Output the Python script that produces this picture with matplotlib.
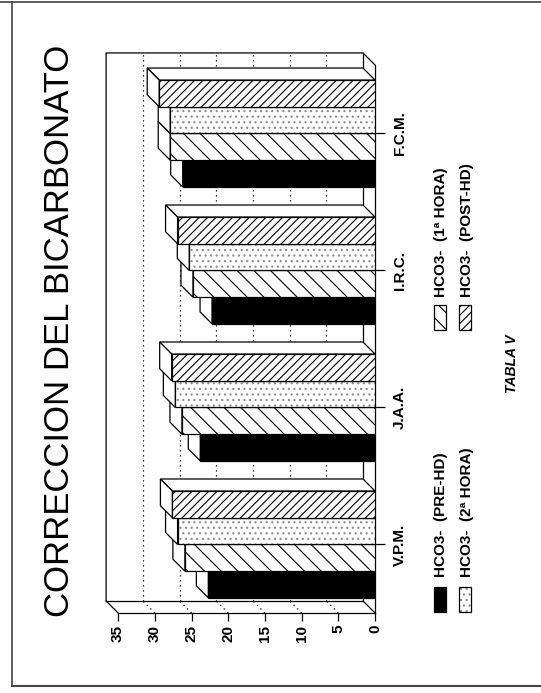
import matplotlib
matplotlib.use('Agg')
import matplotlib.pyplot as plt
from matplotlib.patches import Polygon, Rectangle
from matplotlib.lines import Line2D

plt.rcParams['font.family'] = ['Liberation Sans', 'DejaVu Sans']
plt.rcParams['hatch.linewidth'] = 0.8

# data (rotated page: values grow to the left)
categories = ['V.P.M.', 'J.A.A.', 'I.R.C.', 'F.C.M.']
pre_hd = [22.7, 23.8, 22.2, 26.2]
hora_1 = [25.9, 26.3, 24.8, 27.9]
hora_2 = [26.9, 27.2, 25.3, 27.9]
post_hd = [27.6, 27.7, 26.9, 29.4]
series_labels = ['HCO3-  (PRE-HD)', 'HCO3-  (1ª HORA)', 'HCO3-  (2ª HORA)', 'HCO3-  (POST-HD)']
value_ticks = [0, 5, 10, 15, 20, 25, 30, 35]

W, H = 541, 693
fig = plt.figure(figsize=(W / 100, H / 100), dpi=100)
fig.patch.set_facecolor('white')

# 3d depth offset in data units (12 px each way)
dx = 12 / 7.34
dy = 12 / 136.5
ax = fig.add_axes([106.1 / W, 1 - 612.95 / H, 268.9 / W, 560 / H])
ax.set_xlim(35 + dx, 0)
ax.set_ylim(-0.5, 3.5 + dy)
for s in ax.spines.values():
    s.set_visible(False)
ax.set_facecolor('none')


def pxfig(x, y):
    return x / W, 1 - y / H


def line(xs, ys, **kw):
    ax.add_line(Line2D(xs, ys, color='black', lw=0.9, clip_on=False, **kw))


# back wall, floor and side strip
line([35 + dx, 35 + dx, dx, 0], [-0.5 + dy, 3.5 + dy, 3.5 + dy, 3.5])
line([dx, dx], [-0.5 + dy, 3.5 + dy])
line([0, 0], [-0.5, 3.5])
line([35 + dx, dx], [-0.5 + dy, -0.5 + dy])
line([35, 0], [-0.5, -0.5])
line([35, 35 + dx], [-0.5, -0.5 + dy])
line([0, dx], [-0.5, -0.5 + dy])
for v in value_ticks[1:-1]:
    line([v + dx, v + dx], [-0.5 + dy, 3.5 + dy], ls=(0, (1, 3)), zorder=1)
    line([v, v + dx], [-0.5, -0.5 + dy], ls=(0, (1, 3)), zorder=1)

series = [pre_hd, hora_1, hora_2, post_hd]
faces = ['black', 'white', 'white', 'white']
hatches = [None, '\\\\', '...', '////']
hatch_colors = ['black', 'black', '#8a8a8a', 'black']
bw = 0.195
offsets = [-1.5 * bw, -0.5 * bw, 0.5 * bw, 1.5 * bw]

for i, vals in enumerate(series):
    ys = [k + offsets[i] for k in range(len(categories))]
    z = 10 + 3 * i
    # hatch layer, then outline on top
    ax.barh(ys, vals, height=bw, left=0, color=faces[i], edgecolor=hatch_colors[i],
            linewidth=0, hatch=hatches[i], zorder=z + 1)
    ax.barh(ys, vals, height=bw, left=0, fill=False, edgecolor='black',
            linewidth=0.9, zorder=z + 2)
    for y, v in zip(ys, vals):
        top = y + bw / 2
        bot = y - bw / 2
        side = Polygon([(0, top), (v, top), (v + dx, top + dy), (dx, top + dy)],
                       closed=True, fc='white', ec='black', lw=0.9, zorder=z)
        cap = Polygon([(v, bot), (v, top), (v + dx, top + dy), (v + dx, bot + dy)],
                      closed=True, fc='white', ec='black', lw=0.9, zorder=z)
        ax.add_patch(side)
        ax.add_patch(cap)

ax.set_xticks(value_ticks)
ax.set_xticklabels([str(t) for t in value_ticks], rotation=90,
                   fontsize=11, fontweight='bold')
ax.tick_params(axis='x', direction='out', length=6, width=0.9, pad=2.5)

ax.yaxis.tick_right()
ax.set_yticks(range(len(categories)))
ax.set_yticklabels(categories, rotation=90, va='center', fontsize=11, fontweight='bold')
ax.tick_params(axis='y', direction='out', length=7, width=0.9, pad=6)

# title (page is turned)
fig.text(*pxfig(60, 331), 'CORRECCION DEL BICARBONATO', rotation=90,
         fontsize=25, ha='center', va='center')

# legend drawn by hand, rotated like the page
legend_pos = [(440, 612, 577), (440, 330, 297), (465, 612, 577), (465, 330, 297)]
for i, (xc, ybot, ytxt) in enumerate(legend_pos):
    x0, y0 = pxfig(xc - 6, ybot)
    fig.add_artist(Rectangle((x0, y0), 12 / W, 25 / H, transform=fig.transFigure,
                             fc=faces[i], ec=hatch_colors[i], lw=0, hatch=hatches[i]))
    fig.add_artist(Rectangle((x0, y0), 12 / W, 25 / H, transform=fig.transFigure,
                             fill=False, ec='black', lw=0.9))
    fig.text(*pxfig(xc + 1.5, ytxt), series_labels[i], rotation=90, fontsize=11,
             fontweight='bold', ha='center', va='bottom')

fig.text(*pxfig(512, 364), 'TABLA V', rotation=90, fontsize=10,
         fontweight='bold', fontstyle='italic', ha='center', va='center')

# page frame from the scan
fig.add_artist(Line2D([12 / W, 12 / W], [1 - 686 / H, 1 - 2 / H], transform=fig.transFigure,
                      color='#444444', lw=1.2))
fig.add_artist(Line2D([12 / W, 1], [1 - 686 / H, 1 - 686 / H], transform=fig.transFigure,
                      color='#444444', lw=1.5))
fig.add_artist(Line2D([0, 1], [1 - 2 / H, 1 - 2 / H], transform=fig.transFigure,
                      color='#444444', lw=1.2))

fig.savefig('out.png', dpi=100)
